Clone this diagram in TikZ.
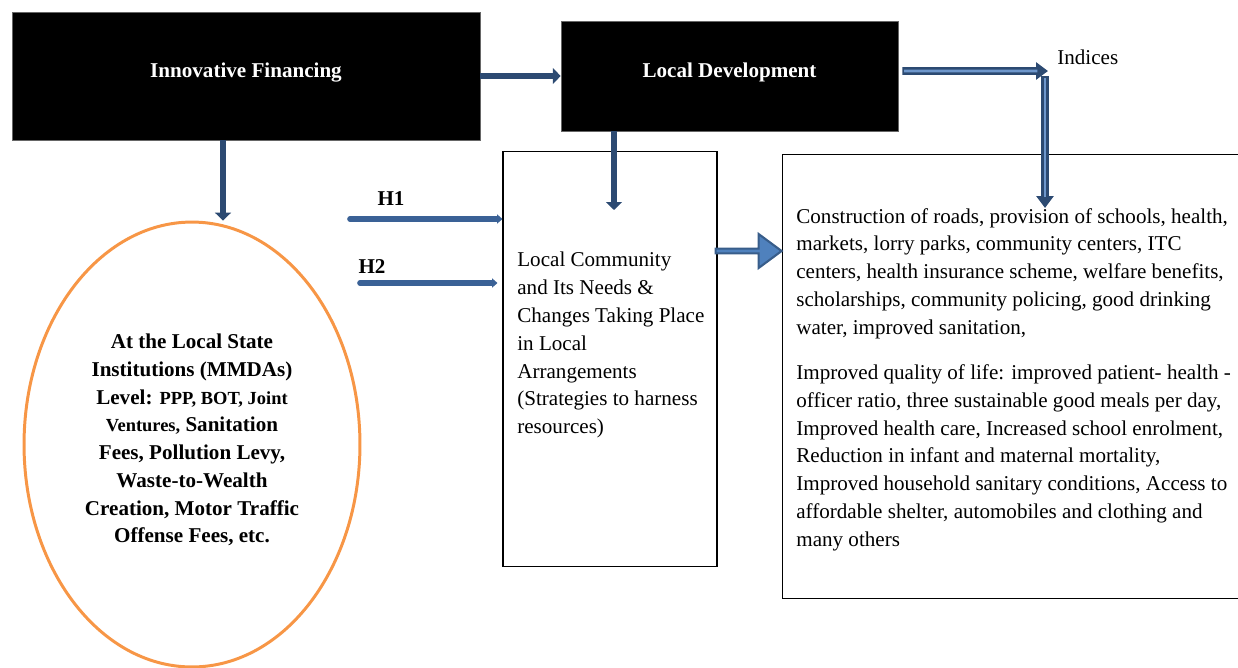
\documentclass[tikz,border=0pt]{standalone}
\usepackage{fontspec}
\setmainfont{Liberation Serif}
\usetikzlibrary{arrows.meta,shapes.geometric,shapes.arrows}

\definecolor{navy}{HTML}{2C4A72}
\definecolor{steel}{HTML}{3A6196}
\definecolor{paleblue}{HTML}{6E97CC}
\definecolor{shapeblue}{HTML}{4F81BD}
\definecolor{shapeedge}{HTML}{385D8A}
\definecolor{ringorange}{HTML}{F79646}

\newcommand\lvlsmall{\fontsize{10.5}{15.8}\selectfont}

\tikzset{
  blackbox/.style={draw=black!60, fill=black, text=white, font=\fontsize{12}{14}\selectfont\bfseries, inner sep=0},
  plainbox/.style={draw, line width=0.6pt, inner sep=0},
  body/.style={font=\fontsize{12}{15.8}\selectfont, align=left, inner sep=0, anchor=north west},
  hlabel/.style={font=\fontsize{12}{14}\selectfont\bfseries, inner sep=0},
  flow/.style={draw=navy, line width=3.6pt, -{Triangle[length=4.5pt,width=9pt]}},
  hyp/.style={draw=steel, line width=3.2pt, line cap=round, -{Triangle[length=3pt,width=5pt]}},
  pipe/.style={draw=navy, line width=4.5pt, -{Triangle[length=6.8pt,width=9.6pt]},
    postaction={draw=paleblue, line width=1.6pt, shorten >=6pt, shorten <=1pt, -}},
}

\begin{document}
\begin{tikzpicture}[x=0.02cm,y=-0.02cm]
\useasboundingbox (0,0) rectangle (1238,667);

% top row
\node[blackbox, minimum width=9.36cm, minimum height=2.56cm] (fin) at (246,76) {\raisebox{0.24cm}{Innovative Financing}};
\node[blackbox, minimum width=6.74cm, minimum height=2.2cm] (dev) at (729.5,76) {\raisebox{0.24cm}{Local Development}};
\node[font=\fontsize{12}{14}\selectfont, anchor=west, inner sep=0] (idx) at (1057,57) {Indices};

% financing level
\node[ellipse, draw=ringorange, line width=1.7pt, minimum width=6.72cm, minimum height=8.9cm] (lvl) at (192,444.5) {};
\node[align=center, font=\fontsize{12}{15.8}\selectfont\bfseries, inner sep=0] (lvltext) at (192,440)
  {At the Local State\\ Institutions (MMDAs)\\ Level: {\lvlsmall PPP, BOT, Joint}\\ {\lvlsmall Ventures,} Sanitation\\
   Fees, Pollution Levy,\\ Waste-to-Wealth\\ Creation, Motor Traffic\\ Offense Fees, etc.};

% community and results
\node[plainbox, minimum width=4.28cm, minimum height=8.32cm] (mid) at (610,359) {};
\node[body] (midtext) at (517,252) {Local Community\\ and Its Needs \&\\ Changes Taking Place\\ in Local\\ Arrangements\\ (Strategies to harness\\ resources)};

\node[plainbox, minimum width=9.36cm, minimum height=8.9cm] (res) at (1016,376.5) {};
\node[body] (restext) at (796,208) {Construction of roads, provision of schools, health,\\
  markets, lorry parks, community centers, ITC\\
  centers, health insurance scheme, welfare benefits,\\
  scholarships, community policing, good drinking\\
  water, improved sanitation,\\[10pt]
  Improved quality of life: improved patient- health -\\
  officer ratio, three sustainable good meals per day,\\
  Improved health care, Increased school enrolment,\\
  Reduction in infant and maternal mortality,\\
  Improved household sanitary conditions, Access to\\
  affordable shelter, automobiles and clothing and\\
  many others};

\node[single arrow, draw=shapeedge, fill=shapeblue, line width=1.2pt, inner sep=0,
  minimum height=1.32cm, minimum width=0.68cm, single arrow head extend=0.13cm,
  single arrow tip angle=73] (push) at (747,251) {};

% connectors
\coordinate (needtip) at (614,210);
\coordinate (h1from) at (350,219);
\coordinate (h2from) at (360,283);
\coordinate (bend) at (1048,71);
\coordinate (drop) at (1045,76);
\coordinate (idxtip) at (1045,208);

\draw[flow] (fin.east) -- (dev.west);
\draw[flow] ([xshift=-0.46cm]fin.south) -- ([xshift=-0.46cm]fin.south |- lvl.north);
\draw[flow] (dev.south -| needtip) -- (needtip);

\node[hlabel] (h1) at (391,199) {H1};
\node[hlabel] (h2) at (372,267) {H2};
\draw[hyp] (h1from) -- (h1from -| mid.west);
\draw[hyp] (h2from) -- ([xshift=-0.1cm]h2from -| mid.west);

\draw[pipe] ([xshift=0.08cm,yshift=0.1cm]dev.east) -- (bend);
\draw[pipe] (drop) -- (idxtip);
\end{tikzpicture}
\end{document}
